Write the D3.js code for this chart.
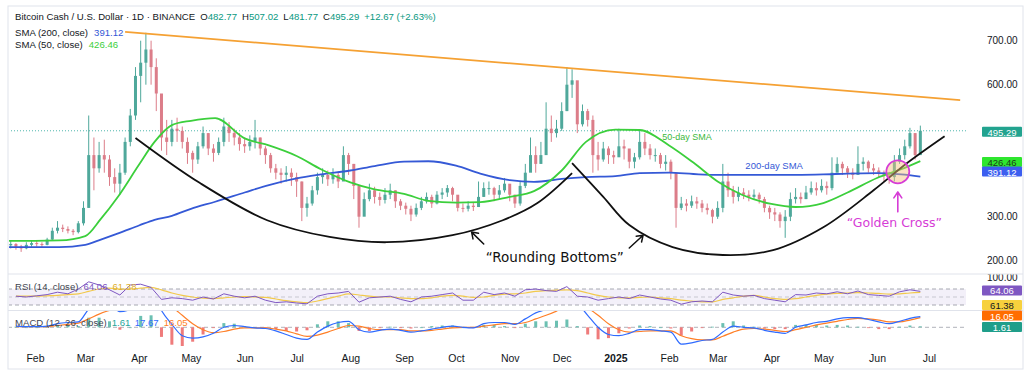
<!DOCTYPE html>
<html>
<head>
<meta charset="utf-8">
<script src="https://cdn.jsdelivr.net/npm/d3@7"></script>
<style>
  body { margin: 0; background: #fff; }
  svg { display: block; font-family: "Liberation Sans", Arial, sans-serif; }
</style>
</head>
<body>
<div id="chart"></div>
<script>
// BCH/USD daily, sampled as 3-day candles (Jan 18 2024 -> Jun 26 2025)
const candleStart = new Date(2024, 0, 18);
const candleStepDays = 3;
const firstOpen = 235;
const closes = [
  238,232,228,236,240,238,236,248,268,275,
  272,268,265,285,320,440,410,440,430,390,
  375,400,470,530,620,650,680,640,580,480,
  470,500,495,470,445,430,460,490,455,445,
  470,505,490,480,465,460,470,480,455,440,
  410,400,395,400,390,380,320,330,360,390,
  395,385,395,380,440,420,370,300,340,360,
  345,338,350,360,335,325,318,305,320,335,
  345,330,350,355,365,350,320,318,325,322,
  345,365,365,350,360,375,350,330,370,400,
  440,420,440,500,490,500,540,600,610,510,
  540,520,440,430,455,440,435,460,455,425,
  435,470,455,440,440,420,425,400,320,330,
  325,335,330,320,315,300,320,380,360,345,
  355,350,345,350,340,320,310,305,290,300,
  340,345,340,355,365,360,370,365,400,420,
  410,400,395,420,425,410,405,400,395,390,
  425,440,460,490,440,495.29
];
const highs = [
  245,240,236,242,246,245,242,252,275,290,
  282,278,272,290,335,530,480,470,475,440,
  410,420,480,545,640,700,718,700,660,570,
  520,520,525,505,480,450,470,505,490,465,
  480,525,515,500,490,480,485,520,480,460,
  445,420,410,415,410,400,380,345,370,400,
  410,405,410,400,460,445,420,365,355,375,
  368,355,365,375,360,340,332,325,330,345,
  355,350,358,365,372,368,345,330,335,332,
  380,378,380,368,372,388,370,350,380,420,
  480,460,470,560,530,520,560,640,635,600,
  555,545,530,470,470,460,450,500,475,450,
  445,495,490,465,455,445,440,430,400,345,
  340,348,345,338,330,318,335,420,400,370,
  368,365,360,362,355,345,325,320,310,315,
  355,365,355,370,380,378,385,380,435,435,
  425,415,410,460,435,428,420,412,405,402,
  440,455,475,502,490,507.02
];
const lows = [
  228,225,220,226,232,232,230,235,245,262,
  265,262,258,262,280,320,360,400,400,370,
  355,350,395,460,520,560,600,600,540,450,
  440,460,470,455,420,400,420,455,440,425,
  440,460,470,462,450,445,450,455,440,420,
  400,385,375,380,370,345,290,300,325,350,
  375,370,375,365,395,395,340,275,315,335,
  330,325,330,340,320,315,305,290,300,315,
  330,320,328,340,345,335,312,310,312,313,
  325,345,350,335,340,355,335,320,325,365,
  405,400,420,460,470,480,495,540,570,490,
  505,505,400,405,425,420,420,440,430,410,
  410,430,440,430,425,410,405,385,275,315,
  312,320,318,310,305,285,295,310,345,330,
  335,340,335,340,330,310,295,290,275,252,
  290,330,330,340,350,348,355,350,360,405,
  395,388,385,400,405,400,395,390,380,375,
  380,420,430,455,430,481.77
];

// Moving averages read at these dates
const smaDates = [
  "2024-01-16","2024-02-01","2024-02-15","2024-03-01","2024-03-10","2024-03-20",
  "2024-04-01","2024-04-10","2024-04-20","2024-05-01","2024-05-15","2024-06-01",
  "2024-06-15","2024-07-01","2024-07-15","2024-08-01","2024-08-15","2024-09-01",
  "2024-09-15","2024-10-01","2024-10-15","2024-11-01","2024-11-15","2024-12-01",
  "2024-12-15","2025-01-01","2025-01-15","2025-02-01","2025-02-15","2025-03-01",
  "2025-03-15","2025-04-01","2025-04-15","2025-05-01","2025-05-15","2025-06-01",
  "2025-06-15","2025-06-26"
];
const sma50 = [
  245,245,246,256,295,346,418,470,508,518,524,478,462,438,408,378,362,352,336,
  332,333,345,358,405,470,498,497,462,423,380,350,329,322,331,355,388,408,426.46
];
const sma200 = [
  231,231,231,236,248,262,280,293,302,318,334,355,372,387,396,405,415,425,426,
  416,398,383,379,386,390,392,399,400,397,395,395,395,395,396,398,399,396,391.12
];

// Indicators, one reading every 6 days from Jan 21 2024
const indStart = new Date(2024, 0, 21);
const indStepDays = 6;
const rsi = [
  52,50,53,56,62,58,70,88,80,68, 55,80,82,74,44,48,46,42,50,45,
  58,52,48,52,42,36,38,35,33,52, 58,60,64,37,48,50,52,44,38,50,
  52,56,60,42,42,62,56,60,52,68, 70,66,64,76,52,50,42,46,50,46,
  55,50,45,42,32,38,40,38,62,55, 52,54,46,42,38,56,55,60,58,63,
  58,65,56,54,52,63,68,64.06
];
const rsiMa = [
  52,52,52,53,54,56,58,64,70,72, 70,70,72,74,68,60,54,50,47,46,
  48,50,51,50,49,45,41,38,36,40, 46,52,58,55,52,50,50,48,46,46,
  48,52,54,52,49,50,54,57,58,60, 64,66,67,68,66,60,54,50,48,48,
  49,50,48,46,42,40,38,38,44,48, 52,54,50,46,44,46,50,54,57,59,
  60,61,60,59,57,58,60,61.38
];
const macd = [
  2,1,1,2,6,8,9,30,38,38, 26,30,55,65,28,5,-14,-18,-16,-10,
  0,3,1,-1,-2,-6,-12,-18,-20,-8, 2,8,10,-4,-8,-5,-3,-5,-8,-6,
  -3,0,2,0,-1,6,8,8,5,14, 24,30,38,48,40,20,0,-12,-14,-10,
  -4,-4,-6,-8,-28,-26,-22,-20,-8,2, 0,-1,-5,-8,-10,0,4,8,10,14,
  16,16,13,9,6,10,15,17.67
];
const signal = [
  1,1,1,1,3,5,7,14,22,28, 30,30,36,45,44,34,20,6,-4,-9,
  -7,-3,-1,-1,-1,-3,-6,-11,-15,-13, -8,-2,3,2,-2,-4,-4,-4,-6,-6,
  -5,-3,-1,0,0,2,4,6,6,8, 14,20,27,35,38,32,20,6,-4,-8,
  -7,-6,-6,-6,-14,-19,-21,-21,-15,-8, -3,-2,-3,-5,-7,-4,0,4,7,10,
  13,15,14,12,9,9,12,16.05
];
const hist = [
  1,0,0,1,3,3,2,16,16,10, -4,0,19,20,-16,-29,-34,-24,-12,-1,
  7,6,2,0,-1,-3,-6,-7,-5,5, 10,10,7,-6,-6,-1,1,-1,-2,0,
  2,3,3,0,-1,4,4,2,-1,6, 10,10,11,13,2,-12,-20,-18,-10,-2,
  3,2,0,-2,-14,-7,-1,1,7,10, 3,1,-2,-3,-3,4,4,4,3,4,
  3,1,-1,-3,-3,1,3,1.61
];

// Price scale ticks that show (400 and 500 sit under the value tags)
const priceTicks = [200, 300, 600, 700];

// Drawn annotations (date, price)
const trendDates = ["2024-03-24", "2025-07-19"];
const trendPrices = [720, 565];
const arc1Dates = ["2024-03-30","2024-05-06","2024-06-14","2024-07-20","2024-08-22","2024-09-29","2024-10-28","2024-11-17","2024-12-07"];
const arc1Prices = [479, 377, 292, 254, 242, 258, 292, 331, 399];
const arc2Dates = ["2024-12-07","2024-12-25","2025-01-09","2025-02-03","2025-03-04","2025-04-02","2025-05-01","2025-05-30","2025-06-18","2025-07-10"];
const arc2Prices = [422, 345, 281, 231, 213, 224, 276, 360, 421, 483];

const parse = d3.timeParse("%Y-%m-%d");
const W = 1024, H = 375;
const left = 8, plotRight = 966;

const svg = d3.select("#chart").append("svg")
  .attr("width", W)
  .attr("height", H);

const x = d3.scaleTime()
  .domain([new Date(2024, 1, 1), new Date(2025, 6, 1)])
  .range([35, 929]);
const y = d3.scaleLinear().domain([200, 700]).range([260.7, 40.7]);
const yRsi = d3.scaleLinear().domain([0, 100]).range([317, 277]);
const yMacd = d3.scaleLinear().domain([-30, 30]).range([345.3, 309.3]);

// frame and pane separators
svg.append("rect").attr("x", left).attr("y", 6).attr("width", W - left - 1).attr("height", 363)
  .attr("fill", "none").attr("stroke", "#e0e3eb");
[274, 310.5].forEach(yy => svg.append("line")
  .attr("x1", left).attr("x2", W - 1).attr("y1", yy).attr("y2", yy)
  .attr("stroke", "#e0e3eb"));

const defs = svg.append("defs");
function clip(id, y0, y1) {
  defs.append("clipPath").attr("id", id).append("rect")
    .attr("x", left + 1).attr("y", y0).attr("width", plotRight - left).attr("height", y1 - y0);
  return svg.append("g").attr("clip-path", `url(#${id})`);
}
const gPrice = clip("cp-price", 7, 273.5);
const gRsi = clip("cp-rsi", 274.5, 310);
const gMacd = clip("cp-macd", 311, 346);

// ---- price pane ----
// last price dotted line
gPrice.append("line")
  .attr("x1", left).attr("x2", plotRight)
  .attr("y1", y(495.29)).attr("y2", y(495.29))
  .attr("stroke", "#26a69a").attr("stroke-dasharray", "1,2").attr("opacity", 0.8);

const candles = closes.map((c, i) => ({
  date: d3.timeDay.offset(candleStart, i * candleStepDays),
  open: i === 0 ? firstOpen : closes[i - 1],
  high: highs[i], low: lows[i], close: c
}));
const upCol = "#4fa89b", downCol = "#dc7d89";
const cg = gPrice.selectAll(".candle").data(candles).enter().append("g");
cg.append("line")
  .attr("x1", d => x(d.date)).attr("x2", d => x(d.date))
  .attr("y1", d => y(d.high)).attr("y2", d => y(d.low))
  .attr("stroke", d => d.close >= d.open ? upCol : downCol).attr("stroke-width", 1);
cg.append("rect")
  .attr("x", d => x(d.date) - 1.5).attr("width", 3)
  .attr("y", d => y(Math.max(d.open, d.close)))
  .attr("height", d => Math.max(1, Math.abs(y(d.open) - y(d.close))))
  .attr("fill", d => d.close >= d.open ? upCol : downCol);

const smaLine = d3.line().x(d => x(d[0])).y(d => y(d[1])).curve(d3.curveMonotoneX);
gPrice.append("path").datum(smaDates.map((d, i) => [parse(d), sma200[i]]))
  .attr("d", smaLine).attr("fill", "none").attr("stroke", "#3559d6").attr("stroke-width", 1.8);
gPrice.append("path").datum(smaDates.map((d, i) => [parse(d), sma50[i]]))
  .attr("d", smaLine).attr("fill", "none").attr("stroke", "#3ccf3c").attr("stroke-width", 1.8);

// trend line and rounding bottoms
gPrice.append("line")
  .attr("x1", x(parse(trendDates[0]))).attr("y1", y(trendPrices[0]))
  .attr("x2", x(parse(trendDates[1]))).attr("y2", y(trendPrices[1]))
  .attr("stroke", "#f5a133").attr("stroke-width", 1.6);
const arcLine = d3.line().x(d => x(d[0])).y(d => y(d[1])).curve(d3.curveCatmullRom);
[[arc1Dates, arc1Prices], [arc2Dates, arc2Prices]].forEach(([ds, ps]) => {
  gPrice.append("path").datum(ds.map((d, i) => [parse(d), ps[i]]))
    .attr("d", arcLine).attr("fill", "none").attr("stroke", "#111").attr("stroke-width", 1.8);
});

function arrow(g, d0, p0, d1, p1, color, w) {
  const x0 = x(parse(d0)), y0 = y(p0), x1 = x(parse(d1)), y1 = y(p1);
  const a = Math.atan2(y1 - y0, x1 - x0), L = 7;
  g.append("path")
    .attr("d", `M${x0},${y0}L${x1},${y1}` +
      `M${x1 - L * Math.cos(a - 0.6)},${y1 - L * Math.sin(a - 0.6)}L${x1},${y1}` +
      `L${x1 - L * Math.cos(a + 0.6)},${y1 - L * Math.sin(a + 0.6)}`)
    .attr("fill", "none").attr("stroke", color).attr("stroke-width", w)
    .attr("stroke-linecap", "round").attr("stroke-linejoin", "round");
}
arrow(gPrice, "2024-10-17", 238, "2024-10-10", 265, "#111", 1.5);
arrow(gPrice, "2025-01-09", 229, "2025-01-17", 258, "#111", 1.5);

gPrice.append("text")
  .attr("x", x(parse("2024-11-27"))).attr("y", y(206))
  .attr("text-anchor", "middle").attr("dominant-baseline", "middle")
  .style("font-family", "DejaVu Sans").style("font-size", "13.5px").attr("fill", "#111")
  .text("\u201CRounding Bottoms\u201D");

// golden cross
gPrice.append("circle")
  .attr("cx", x(parse("2025-06-13"))).attr("cy", y(402)).attr("r", 11.5)
  .attr("fill", "rgba(247,190,120,0.45)").attr("stroke", "#d63dd6").attr("stroke-width", 1.8);
arrow(gPrice, "2025-06-13", 311, "2025-06-13", 356, "#d63dd6", 1.6);
gPrice.append("text")
  .attr("x", x(parse("2025-06-11"))).attr("y", y(285.5))
  .attr("text-anchor", "middle").attr("dominant-baseline", "middle")
  .style("font-family", "DejaVu Sans").style("font-size", "12.5px").attr("fill", "#d63dd6")
  .text("\u201CGolden Cross\u201D");

gPrice.append("text")
  .attr("x", x(parse("2025-01-28"))).attr("y", y(479))
  .attr("dominant-baseline", "middle").style("font-size", "9px").attr("fill", "#3cb83c")
  .text("50-day SMA");
gPrice.append("text")
  .attr("x", x(parse("2025-03-17"))).attr("y", y(413))
  .attr("dominant-baseline", "middle").style("font-size", "9.5px").attr("fill", "#3559d6")
  .text("200-day SMA");

// header legend
const hdr = svg.append("text").attr("x", 15).attr("y", 20)
  .style("font-size", "9.6px").attr("fill", "#131722");
hdr.append("tspan").text("Bitcoin Cash / U.S. Dollar \u00B7 1D \u00B7 BINANCE");
[["O", "482.77"], ["H", "507.02"], ["L", "481.77"], ["C", "495.29"]].forEach(([k, v]) => {
  hdr.append("tspan").attr("dx", 5).text(k);
  hdr.append("tspan").attr("fill", "#089981").text(v);
});
hdr.append("tspan").attr("dx", 5).attr("fill", "#089981").text("+12.67 (+2.63%)");

const l1 = svg.append("text").attr("x", 15).attr("y", 35.5).style("font-size", "9.6px").attr("fill", "#131722");
l1.append("tspan").text("SMA (200, close)");
l1.append("tspan").attr("dx", 6).attr("fill", "#3559d6").text("391.12");
const l2 = svg.append("text").attr("x", 15).attr("y", 47.5).style("font-size", "9.6px").attr("fill", "#131722");
l2.append("tspan").text("SMA (50, close)");
l2.append("tspan").attr("dx", 6).attr("fill", "#3ccf3c").text("426.46");

// price scale
svg.append("g").attr("transform", "translate(984,0)")
  .call(d3.axisRight(y).tickValues(priceTicks).tickFormat(d3.format(".2f")).tickSize(0).tickPadding(3))
  .call(g => g.select(".domain").remove())
  .selectAll("text").style("font-size", "10px").attr("fill", "#131722");

function tag(yy, label, bg, fg) {
  svg.append("rect").attr("x", 982).attr("y", yy - 5).attr("width", 40).attr("height", 10)
    .attr("fill", bg).attr("rx", 1);
  svg.append("text").attr("x", 1002).attr("y", yy + 0.5).attr("text-anchor", "middle")
    .attr("dominant-baseline", "central").style("font-size", "9.5px").attr("fill", fg).text(label);
}
tag(y(495.29) + 1, "495.29", "#22a38f", "#fff");
tag(y(426.46) + 1, "426.46", "#2ee62e", "#1b3a1b");
tag(y(391.12) - 5, "391.12", "#3c5ef0", "#fff");

// ---- RSI pane ----
gRsi.append("rect").attr("x", left).attr("width", plotRight - left)
  .attr("y", yRsi(70)).attr("height", yRsi(30) - yRsi(70))
  .attr("fill", "rgba(126,87,194,0.09)");
[70, 50, 30].forEach(v => gRsi.append("line")
  .attr("x1", left).attr("x2", plotRight).attr("y1", yRsi(v)).attr("y2", yRsi(v))
  .attr("stroke", "#9ea1aa").attr("stroke-dasharray", "4,3").attr("opacity", v === 50 ? 0.5 : 0.9));
const indDate = i => d3.timeDay.offset(indStart, i * indStepDays);
gRsi.append("path").datum(rsiMa)
  .attr("d", d3.line().x((d, i) => x(indDate(i))).y(d => yRsi(d)).curve(d3.curveMonotoneX))
  .attr("fill", "none").attr("stroke", "#f2c94c").attr("stroke-width", 1.2);
gRsi.append("path").datum(rsi)
  .attr("d", d3.line().x((d, i) => x(indDate(i))).y(d => yRsi(d)))
  .attr("fill", "none").attr("stroke", "#7e57c2").attr("stroke-width", 1);
const rl = svg.append("text").attr("x", 15).attr("y", 290).style("font-size", "9.6px").attr("fill", "#434651");
rl.append("tspan").text("RSI (14, close)");
rl.append("tspan").attr("dx", 5).attr("fill", "#7e57c2").text("64.06");
rl.append("tspan").attr("dx", 5).attr("fill", "#e0b030").text("61.38");

defs.append("clipPath").attr("id", "cp-rsi-axis").append("rect")
  .attr("x", 960).attr("y", 274.5).attr("width", 64).attr("height", 40);
svg.append("text").attr("x", 987).attr("y", yRsi(100)).attr("dominant-baseline", "central")
  .style("font-size", "10px").attr("fill", "#131722").attr("clip-path", "url(#cp-rsi-axis)").text("100.00");

// ---- MACD pane ----
gMacd.append("line").attr("x1", left).attr("x2", plotRight)
  .attr("y1", yMacd(0)).attr("y2", yMacd(0))
  .attr("stroke", "#9ea1aa").attr("stroke-dasharray", "4,3").attr("opacity", 0.8);
gMacd.selectAll(".hbar").data(hist).enter().append("rect")
  .attr("x", (d, i) => x(indDate(i)) - 1.5).attr("width", 3)
  .attr("y", d => yMacd(Math.max(0, d)))
  .attr("height", d => Math.max(0.8, Math.abs(yMacd(d) - yMacd(0))))
  .attr("fill", d => d >= 0 ? "#6cc0b2" : "#ef7b7b");
const mLine = d3.line().x((d, i) => x(indDate(i))).y(d => yMacd(d)).curve(d3.curveMonotoneX);
gMacd.append("path").datum(signal).attr("d", mLine)
  .attr("fill", "none").attr("stroke", "#ff7f27").attr("stroke-width", 1.2);
gMacd.append("path").datum(macd).attr("d", mLine)
  .attr("fill", "none").attr("stroke", "#2f6bff").attr("stroke-width", 1.2);
const ml = svg.append("text").attr("x", 15).attr("y", 326).style("font-size", "9.6px").attr("fill", "#434651");
ml.append("tspan").text("MACD (12, 26, close)");
ml.append("tspan").attr("dx", 5).attr("fill", "#26a69a").text("1.61");
ml.append("tspan").attr("dx", 5).attr("fill", "#2f6bff").text("17.67");
ml.append("tspan").attr("dx", 5).attr("fill", "#ff7f27").text("16.05");

tag(yRsi(64.06) - 1, "64.06", "#7e57c2", "#fff");
tag(305, "61.38", "#f7d13d", "#131722");
tag(315.5, "16.05", "#ff6d00", "#fff");
tag(yMacd(1.61) + 0.7, "1.61", "#1f9e8a", "#fff");

// ---- time axis ----
const months = d3.timeMonth.range(new Date(2024, 1, 1), new Date(2025, 6, 2));
const tx = svg.append("g").attr("transform", "translate(0,355)")
  .call(d3.axisBottom(x).tickValues(months).tickSize(0).tickPadding(0)
    .tickFormat(d => d.getMonth() === 0 ? d3.timeFormat("%Y")(d) : d3.timeFormat("%b")(d)));
tx.select(".domain").remove();
tx.selectAll("text").style("font-size", "10.5px").attr("fill", "#131722")
  .style("font-weight", d => d.getMonth() === 0 ? "bold" : "normal");
</script>
</body>
</html>
